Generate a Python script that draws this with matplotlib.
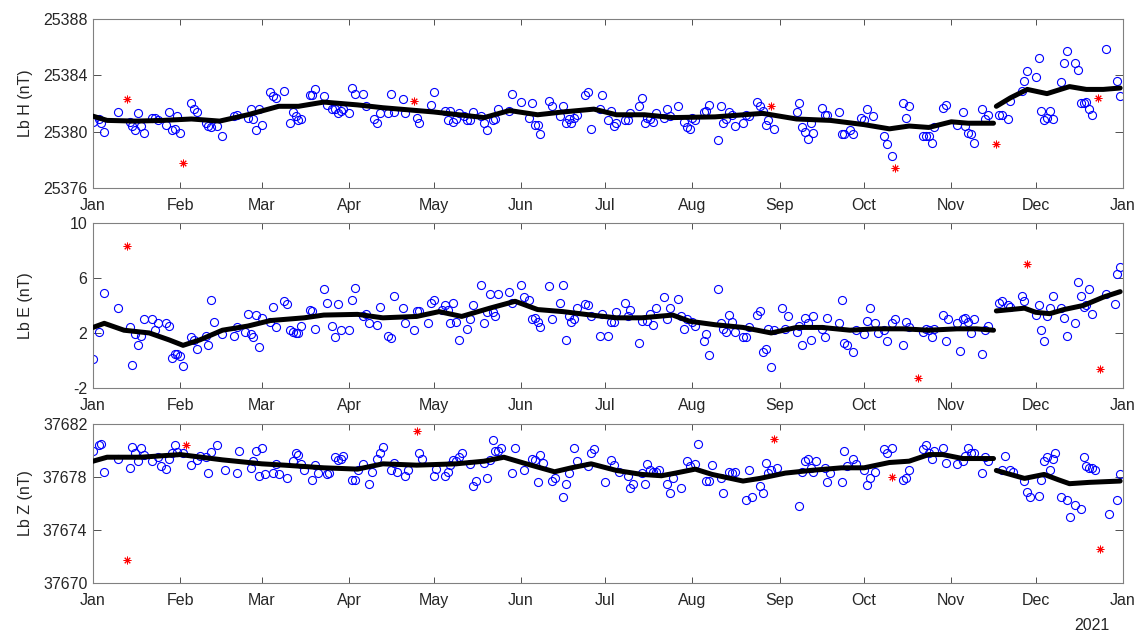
import numpy as np
import matplotlib
matplotlib.use("Agg")
import matplotlib.pyplot as plt
import matplotlib.dates as mdates

plt.rcParams["font.family"] = ["Liberation Sans", "DejaVu Sans"]
plt.rcParams["axes.unicode_minus"] = False

# ---- panel 1 : Lb H (nT) ----
h_days = [0, 2, 3, 4, 9, 13, 14, 15, 16, 17, 18, 21, 22, 23, 26, 27, 28, 29, 30, 31,
          35, 36, 37, 40, 41, 42, 44, 46, 50, 51, 55, 56, 57, 58, 59, 60, 63, 64, 65, 68,
          70, 71, 72, 73, 74, 77, 78, 79, 82, 83, 85, 86, 87, 88, 89, 91, 92, 93,
          96, 97, 100, 101, 102, 105, 106, 107, 110, 111, 115, 116, 120, 121, 125, 126, 127, 128,
          129, 130, 132, 133, 134, 135, 138, 139, 140, 142, 143, 144, 148, 149, 152, 155, 156, 157,
          158, 159, 162, 163, 166, 167, 168, 169, 170, 171, 172, 175, 176, 177, 180, 181, 183, 184,
          185, 186,
          189, 190, 191, 194, 195, 196, 197, 198, 199, 200, 203, 204, 205, 208, 210, 211, 212, 213,
          214, 217, 218, 219, 222, 223, 224, 225, 226, 227, 228, 231, 232, 233, 236, 237, 238, 239,
          240, 242, 250, 251, 252, 253, 254, 255, 256, 259, 260, 261, 265, 266, 267, 269, 270, 273,
          274, 275, 277,
          281, 282, 284, 288, 289, 290, 295, 296, 297, 298, 299, 302, 303, 307, 309, 310, 311, 312,
          313, 316, 317, 318, 322, 323, 325, 326, 330, 331, 332, 335, 336, 337, 338, 339, 340, 341,
          344, 345, 346, 349, 350, 351, 352, 353, 354, 355, 360, 364, 365]
h_vals = [25380.7, 25380.9, 25380.6, 25380.0, 25381.4, 25380.7, 25380.4, 25380.1, 25381.3, 25380.4,
          25379.9, 25381.0, 25381.0, 25380.8, 25380.5, 25381.4, 25380.1, 25380.2, 25381.1, 25379.9,
          25382.0, 25381.6, 25381.4, 25380.6, 25380.4, 25380.3, 25380.4, 25379.7, 25381.1, 25381.2,
          25381.0, 25381.6, 25380.9, 25380.1, 25381.6, 25380.5, 25382.8, 25382.5, 25382.4, 25382.9,
          25380.6, 25381.4, 25381.1, 25380.8, 25380.9, 25382.6, 25382.6, 25383.0, 25382.5, 25381.9,
          25381.6, 25381.6, 25381.3, 25381.5, 25381.6, 25381.3, 25383.1, 25382.7,
          25382.7, 25381.8, 25380.9, 25380.6, 25381.3, 25381.3, 25382.7, 25381.4, 25382.3, 25381.3,
          25381.0, 25380.6, 25381.9, 25382.8, 25381.5, 25380.8, 25381.5, 25380.7, 25380.9, 25381.3,
          25381.1, 25380.8, 25380.8, 25381.4, 25381.1, 25380.6, 25380.1, 25380.8, 25380.9, 25381.6,
          25381.5, 25382.7, 25382.1, 25381.0, 25382.0, 25380.5, 25380.5, 25379.8, 25382.2, 25381.8,
          25381.1, 25381.8, 25380.6, 25380.9, 25380.6, 25381.0, 25381.2, 25382.6, 25382.8, 25380.2,
          25381.6, 25382.6, 25380.8, 25381.5, 25380.4, 25380.6,
          25380.8, 25380.8, 25381.3, 25381.8, 25382.4, 25380.6, 25381.0, 25380.9, 25380.7, 25381.3,
          25381.0, 25381.6, 25381.1, 25381.8, 25380.7, 25380.3, 25380.2, 25381.0, 25380.8, 25381.4,
          25381.5, 25381.9, 25379.4, 25381.8, 25380.6, 25380.9, 25381.4, 25381.2, 25380.4, 25380.6,
          25381.2, 25381.1, 25382.1, 25381.8, 25381.5, 25380.5, 25380.8, 25380.2, 25381.4, 25382.0,
          25380.3, 25380.0, 25379.5, 25380.6, 25379.9, 25381.7, 25381.2, 25381.2, 25381.4, 25379.8,
          25379.8, 25380.1, 25379.8, 25381.0, 25380.8, 25381.6, 25381.1,
          25379.7, 25379.1, 25378.3, 25382.0, 25381.0, 25381.8, 25379.7, 25379.7, 25379.7, 25379.2,
          25380.3, 25381.7, 25381.9, 25380.5, 25381.4, 25380.4, 25379.9, 25379.8, 25379.2, 25381.6,
          25380.9, 25381.2, 25381.2, 25381.2, 25380.9, 25382.2, 25382.9, 25383.6, 25384.3, 25383.9,
          25385.2, 25381.5, 25380.8, 25381.0, 25381.5, 25380.9, 25383.5, 25384.9, 25385.7, 25384.9,
          25384.4, 25382.0, 25382.0, 25382.1, 25381.6, 25381.2, 25385.9, 25383.6, 25382.5]
h_out_days = [12, 32, 114, 241, 285, 321, 357]
h_out_vals = [25382.3, 25377.8, 25382.2, 25381.8, 25377.4, 25379.1, 25382.4]
h_fit1_days = [0, 5, 15, 25, 35, 45, 55, 66, 73, 82, 94, 103, 121, 130, 139, 148, 158, 167, 178,
               186, 196, 206, 221, 238, 250, 262, 274, 283, 290, 297, 305, 311, 320]
h_fit1_vals = [25381.1, 25380.8, 25380.75, 25380.8, 25380.9, 25380.75, 25381.2, 25381.8, 25381.8,
               25382.1, 25381.9, 25381.7, 25381.4, 25381.2, 25381.0, 25381.5, 25381.2, 25381.4,
               25381.6, 25381.2, 25381.2, 25381.0, 25381.05, 25381.3, 25380.9, 25380.8, 25380.5,
               25380.2, 25380.4, 25380.3, 25380.7, 25380.6, 25380.6]
h_fit2_days = [321, 326, 332, 339, 347, 353, 359, 365]
h_fit2_vals = [25381.8, 25382.4, 25383.0, 25382.7, 25383.2, 25383.0, 25383.0, 25383.1]

# ---- panel 2 : Lb E (nT) ----
e_days = [0, 2, 4, 9, 13, 14, 15, 16, 17, 18, 21, 22, 23, 26, 27, 28, 29, 30, 31, 32,
          35, 36, 37, 40, 41, 42, 43, 46, 50, 51, 54, 55, 56, 57, 58, 59, 60, 63, 64, 65,
          68, 69, 70, 71, 72, 73, 74, 77, 78, 79, 82, 83, 85, 86, 87, 88, 91, 92, 93,
          96, 97, 98, 101, 102, 105, 106, 107, 110, 111, 114, 115, 116, 119, 120, 121, 124, 125,
          126, 127, 128, 129, 130, 133, 134, 135, 138, 139, 140, 141, 142, 143, 144, 148, 149, 152,
          153, 155, 156, 157, 158, 159, 162, 163, 166, 167, 168, 169, 170, 171, 172, 175, 176, 177,
          180, 181, 183, 184, 185, 186,
          189, 190, 191, 194, 195, 197, 198, 199, 200, 203, 204, 205, 208, 209, 210, 211, 213, 214,
          217, 218, 219, 222, 223, 224, 225, 226, 227, 228, 231, 232, 233, 236, 237, 238, 239, 240,
          241, 242, 245, 246, 247, 250, 251, 252, 253, 254, 255, 256, 259, 260, 261, 265, 266, 267,
          268, 270, 271, 274, 275, 276, 278,
          279, 281, 282, 284, 285, 288, 289, 290, 295, 296, 297, 298, 299, 302, 303, 304, 307, 308,
          309, 310, 311, 312, 313, 316, 317, 318, 322, 323, 325, 326, 330, 331, 335, 336, 337, 338,
          339, 340, 341, 344, 345, 346, 349, 350, 351, 352, 353, 354, 355, 360, 363, 364, 365]
e_vals = [0.1, 2.1, 4.9, 3.8, 2.4, -0.3, 1.9, 1.1, 1.8, 3.0, 3.0, 2.2, 2.7, 2.7, 2.5, 0.2, 0.5, 0.5,
          0.3, -0.4, 1.7, 1.5, 0.8, 1.8, 1.1, 4.4, 2.8, 1.9, 1.8, 2.4, 2.1, 3.4, 1.9, 1.7, 3.3, 1.0,
          3.1, 2.8, 3.9, 2.4, 4.3, 4.1, 2.2, 2.1, 2.0, 2.0, 2.5, 3.7, 3.6, 2.3, 5.2, 4.2, 2.5, 1.7,
          4.1, 2.2, 2.2, 4.4, 5.3,
          3.2, 3.4, 2.7, 2.6, 3.9, 1.8, 1.6, 4.7, 3.8, 2.7, 2.2, 3.6, 3.6, 2.7, 4.2, 4.4, 3.7, 4.0,
          3.7, 2.7, 4.2, 2.8, 1.5, 2.3, 3.0, 4.0, 5.5, 2.7, 3.5, 4.8, 3.5, 3.2, 4.8, 5.0, 4.2, 5.5,
          4.6, 4.4, 3.0, 3.1, 2.8, 2.4, 5.4, 3.0, 4.2, 5.5, 1.5, 3.2, 2.8, 3.0, 3.8, 4.1, 4.0, 3.2,
          1.8, 3.4, 1.8, 2.8, 2.8, 3.5,
          4.2, 3.2, 3.7, 1.3, 2.9, 2.9, 3.4, 2.6, 3.8, 4.6, 3.0, 3.8, 4.5, 3.2, 2.3, 3.0, 2.8, 2.5,
          1.4, 1.9, 0.4, 5.2, 2.7, 2.3, 2.1, 3.3, 2.8, 2.1, 1.7, 1.7, 2.4, 3.3, 3.6, 0.6, 0.8, 2.3,
          -0.5, 2.2, 3.8, 2.3, 3.2, 2.1, 2.5, 1.1, 3.1, 2.7, 1.5, 3.2, 2.3, 1.7, 3.1, 2.7, 4.4, 1.3,
          1.1, 0.6, 2.2, 1.9, 2.9, 3.8, 2.7,
          2.0, 2.2, 1.4, 2.7, 3.0, 1.1, 2.8, 2.4, 2.1, 2.3, 2.2, 1.7, 2.3, 3.3, 1.4, 3.0, 2.7, 0.7,
          3.0, 3.1, 2.8, 2.0, 3.0, 0.5, 2.2, 2.5, 4.2, 4.3, 4.0, 3.9, 4.7, 4.3, 3.3, 4.0, 2.2, 1.4,
          3.2, 3.8, 4.7, 3.8, 3.1, 1.8, 2.7, 5.7, 4.7, 3.9, 4.0, 5.2, 3.4, 4.8, 4.1, 6.3, 6.8]
e_out_days = [12, 293, 332, 358]
e_out_vals = [8.35, -1.3, 7.0, -0.6]
e_fit1_days = [0, 4, 11, 20, 27, 32, 38, 46, 55, 63, 75, 82, 94, 103, 115, 123, 131, 141, 150,
               158, 167, 177, 186, 195, 206, 212, 221, 231, 241, 250, 259, 269, 278, 288, 297,
               307, 314, 320]
e_fit1_vals = [2.4, 2.7, 2.2, 2.0, 1.5, 1.1, 1.5, 2.2, 2.5, 2.9, 3.1, 3.3, 3.35, 3.1, 3.2, 3.55,
               3.2, 3.8, 4.3, 3.7, 3.55, 3.3, 3.1, 3.1, 3.3, 2.85, 2.6, 2.4, 2.0, 2.4, 2.4, 2.2,
               2.3, 2.3, 2.2, 2.3, 2.3, 2.2]
e_fit2_days = [321, 326, 331, 335, 340, 345, 352, 359, 365]
e_fit2_vals = [3.6, 3.7, 3.8, 3.5, 3.4, 3.7, 4.0, 4.6, 5.0]

# ---- panel 3 : Lb Z (nT) ----
z_days = [0, 2, 3, 4, 9, 13, 14, 15, 16, 17, 18, 21, 23, 24, 26, 27, 28, 29, 30, 32,
          35, 37, 38, 40, 41, 42, 44, 47, 51, 52, 56, 57, 58, 59, 60, 61, 64, 65, 66, 69,
          71, 72, 73, 74, 75, 78, 79, 80, 83, 84, 86, 87, 88, 89, 92, 93, 94,
          96, 98, 99, 101, 102, 103, 106, 107, 108, 111, 112, 116, 117, 121, 122, 125, 126, 127,
          128, 129, 130, 131, 134, 135, 136, 139, 140, 141, 142, 143, 144, 145, 149, 150, 153, 156,
          157, 158, 159, 160, 163, 164, 167, 168, 169, 171, 172, 176, 177, 178, 182, 184, 185,
          187, 190, 191, 192, 195, 196, 197, 198, 199, 200, 201, 204, 205, 206, 209, 211, 212, 214,
          215, 218, 219, 220, 223, 224, 226, 227, 228, 232, 233, 234, 237, 238, 239, 240, 241, 243,
          251, 252, 253, 254, 255, 256, 257, 260, 261, 262, 266, 267, 268, 270, 271, 274, 275, 276,
          278,
          281, 282, 284, 288, 289, 290, 295, 296, 297, 298, 299, 302, 303, 307, 309, 310, 311, 312,
          313, 316, 317, 318, 323, 324, 326, 327, 331, 332, 333, 336, 337, 338, 339, 340, 341, 342,
          344, 346, 347, 349, 351, 352, 353, 354, 355, 356, 361, 364, 365]
z_vals = [37680.0, 37680.4, 37680.5, 37678.4, 37679.4, 37678.7, 37680.3, 37679.8, 37679.2, 37680.2,
          37679.7, 37679.2, 37679.5, 37678.8, 37678.6, 37679.4, 37679.8, 37680.4, 37679.9, 37679.8,
          37678.9, 37679.3, 37679.6, 37679.5, 37678.3, 37679.9, 37680.4, 37678.5, 37678.3, 37680.0,
          37678.7, 37679.2, 37680.0, 37678.1, 37680.2, 37678.2, 37678.3, 37679.0, 37678.2, 37677.9,
          37679.2, 37679.8, 37679.7, 37679.0, 37678.5, 37677.8, 37678.9, 37678.3, 37678.2, 37678.3,
          37679.5, 37679.3, 37679.4, 37679.6, 37677.8, 37677.8, 37678.5,
          37679.0, 37677.5, 37678.4, 37679.4, 37679.8, 37680.3, 37678.5, 37679.1, 37678.4, 37678.1,
          37678.5, 37679.8, 37679.4, 37678.1, 37678.6, 37678.1, 37678.4, 37678.9, 37679.3, 37679.2,
          37679.5, 37679.8, 37679.0, 37677.3, 37677.7, 37679.1, 37677.9, 37679.3, 37680.8, 37680.0,
          37680.0, 37680.2, 37678.3, 37680.2, 37678.5, 37679.4, 37679.3, 37677.6, 37679.7, 37679.1,
          37677.7, 37677.9, 37676.5, 37677.5, 37678.3, 37680.2, 37679.2, 37678.8, 37679.8, 37680.1,
          37677.6, 37679.3, 37678.9,
          37678.4, 37678.1, 37677.2, 37677.5, 37678.3, 37677.5, 37679.0, 37678.5, 37678.4, 37678.4,
          37678.5, 37677.5, 37676.8, 37677.9, 37677.2, 37679.2, 37678.8, 37679.0, 37680.5, 37677.7,
          37677.7, 37678.9, 37677.9, 37676.8, 37678.4, 37678.3, 37678.4, 37676.3, 37678.5, 37676.5,
          37677.3, 37676.8, 37679.1, 37678.3, 37678.5, 37678.7, 37675.8, 37678.4, 37679.2, 37679.4,
          37678.7, 37678.4, 37679.2, 37678.7, 37677.6, 37678.3, 37677.6, 37680.0, 37678.8, 37679.4,
          37679.0, 37678.5, 37677.4, 37677.9, 37678.4,
          37680.1, 37679.8, 37680.2, 37677.8, 37677.9, 37678.5, 37680.1, 37680.4, 37679.8, 37679.4,
          37680.0, 37680.2, 37679.1, 37679.0, 37679.2, 37679.6, 37680.2, 37679.8, 37679.8, 37678.3,
          37679.5, 37679.2, 37678.5, 37679.6, 37678.5, 37678.4, 37677.7, 37676.9, 37676.5, 37676.6,
          37677.8, 37679.2, 37679.5, 37678.5, 37679.4, 37679.8, 37676.5, 37676.3, 37675.0, 37675.9,
          37675.6, 37679.5, 37678.8, 37678.7, 37678.7, 37678.5, 37675.2, 37676.3, 37678.2]
z_out_days = [12, 33, 115, 242, 284, 358]
z_out_vals = [37671.7, 37680.4, 37681.5, 37680.9, 37678.0, 37672.6]
z_fit1_days = [0, 5, 17, 31, 46, 60, 68, 82, 94, 103, 115, 129, 139, 146, 154, 164, 170, 177, 186,
               195, 202, 207, 214, 220, 231, 237, 246, 255, 266, 274, 283, 290, 297, 302, 309, 320]
z_fit1_vals = [37679.2, 37679.5, 37679.5, 37679.7, 37679.3, 37679.0, 37678.9, 37678.7, 37678.6,
               37679.0, 37678.9, 37679.0, 37679.2, 37679.5, 37679.0, 37678.4, 37678.7, 37679.0,
               37678.5, 37678.2, 37678.1, 37678.3, 37678.6, 37678.2, 37677.7, 37677.9, 37678.3,
               37678.5, 37678.7, 37678.7, 37679.1, 37679.2, 37679.7, 37679.7, 37679.4, 37679.4]
z_fit2_days = [321, 326, 331, 338, 343, 347, 354, 365]
z_fit2_vals = [37678.5, 37678.2, 37677.9, 37678.2, 37677.8, 37677.5, 37677.6, 37677.7]

y_ticks = [[25376, 25380, 25384, 25388], [-2, 2, 6, 10], [37670, 37674, 37678, 37682]]
y_labels = ["Lb H (nT)", "Lb E (nT)", "Lb Z (nT)"]

start = np.datetime64("2020-01-01")
end = np.datetime64("2021-01-01")


def to_dates(days):
    return start + np.array(days, dtype="timedelta64[D]")


panels = [
    (h_days, h_vals, h_out_days, h_out_vals, h_fit1_days, h_fit1_vals, h_fit2_days, h_fit2_vals),
    (e_days, e_vals, e_out_days, e_out_vals, e_fit1_days, e_fit1_vals, e_fit2_days, e_fit2_vals),
    (z_days, z_vals, z_out_days, z_out_vals, z_fit1_days, z_fit1_vals, z_fit2_days, z_fit2_vals),
]

# axes rectangles in figure fraction (left, bottom, width, height)
rects = [[0.0815, 0.703, 0.9027, 0.267],
         [0.0815, 0.387, 0.9027, 0.261],
         [0.0815, 0.079, 0.9027, 0.251]]

fig = plt.figure(figsize=(11.41, 6.33), dpi=100)
axes = []
for i, (d, v, od, ov, f1d, f1v, f2d, f2v) in enumerate(panels):
    ax = fig.add_axes(rects[i])
    ax.plot(to_dates(d), v, "o", ls="none", mfc="none", mec="#0000ff",
            ms=5.8, mew=0.8, zorder=2)
    ax.plot(to_dates(f1d), f1v, "-", color="black", lw=3.6, zorder=3,
            solid_capstyle="round", solid_joinstyle="round")
    ax.plot(to_dates(f2d), f2v, "-", color="black", lw=3.6, zorder=3,
            solid_capstyle="round", solid_joinstyle="round")
    ax.plot(to_dates(od), ov, marker=(8, 2, 0), ls="none", color="red",
            ms=5.5, mew=0.7, zorder=4)

    ax.set_xlim(start, end)
    ax.set_ylim(y_ticks[i][0], y_ticks[i][-1])
    ax.set_yticks(y_ticks[i])
    ax.xaxis.set_major_locator(mdates.MonthLocator())
    ax.xaxis.set_major_formatter(mdates.DateFormatter("%b"))
    ax.tick_params(axis="both", direction="in", top=True, right=True,
                   labelsize=11.5, labelcolor="#262626", color="#333333", width=0.6)
    ax.tick_params(axis="x", length=4.5, pad=7)
    ax.tick_params(axis="y", length=6, pad=4)
    for s in ax.spines.values():
        s.set_color("#808080")
        s.set_linewidth(0.8)
    ax.set_ylabel(y_labels[i], fontsize=11.5, color="#262626")
    ax.yaxis.set_label_coords(-0.058, 0.5)
    axes.append(ax)

axes[2].text(0.987, -0.265, "2021", transform=axes[2].transAxes, ha="right",
             va="center", fontsize=11.5, color="#262626")

fig.savefig("out.png", dpi=100, facecolor="white")
